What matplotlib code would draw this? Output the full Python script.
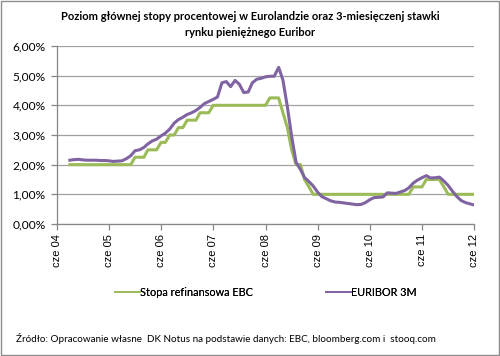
import matplotlib
matplotlib.use("Agg")
import matplotlib.pyplot as plt
from matplotlib.lines import Line2D
from matplotlib.patches import Rectangle
from matplotlib.ticker import FuncFormatter
import pandas as pd

# monthly values, Sep 2004 - Jun 2012 (%)
euribor_3m = [
    2.15, 2.17, 2.18, 2.16,                                                # 2004 (IX-XII)
    2.15, 2.15, 2.15, 2.14, 2.14, 2.13, 2.11, 2.12, 2.13, 2.20, 2.30, 2.47,  # 2005
    2.50, 2.58, 2.70, 2.80, 2.86, 2.97, 3.06, 3.20, 3.40, 3.52, 3.60, 3.69,  # 2006
    3.75, 3.83, 3.93, 4.06, 4.13, 4.20, 4.28, 4.76, 4.80, 4.63, 4.84, 4.71,  # 2007
    4.43, 4.45, 4.76, 4.88, 4.91, 4.96, 4.98, 4.98, 5.28, 4.85, 3.95, 2.95,  # 2008
    2.08, 1.83, 1.57, 1.43, 1.28, 1.07, 0.92, 0.85, 0.78, 0.74, 0.73, 0.71,  # 2009
    0.69, 0.67, 0.65, 0.66, 0.72, 0.82, 0.89, 0.90, 0.91, 1.05, 1.04, 1.03,  # 2010
    1.08, 1.13, 1.22, 1.38, 1.48, 1.56, 1.63, 1.55, 1.56, 1.58, 1.45, 1.30,  # 2011
    1.10, 0.92, 0.79, 0.72, 0.68, 0.64,                                    # 2012 (I-VI)
]
ebc_refi = [
    2.00, 2.00, 2.00, 2.00,
    2.00, 2.00, 2.00, 2.00, 2.00, 2.00, 2.00, 2.00, 2.00, 2.00, 2.00, 2.25,
    2.25, 2.25, 2.50, 2.50, 2.50, 2.75, 2.75, 3.00, 3.00, 3.25, 3.25, 3.50,
    3.50, 3.50, 3.75, 3.75, 3.75, 4.00, 4.00, 4.00, 4.00, 4.00, 4.00, 4.00,
    4.00, 4.00, 4.00, 4.00, 4.00, 4.00, 4.25, 4.25, 4.25, 3.75, 3.25, 2.50,
    2.00, 2.00, 1.50, 1.25, 1.00, 1.00, 1.00, 1.00, 1.00, 1.00, 1.00, 1.00,
    1.00, 1.00, 1.00, 1.00, 1.00, 1.00, 1.00, 1.00, 1.00, 1.00, 1.00, 1.00,
    1.00, 1.00, 1.00, 1.25, 1.25, 1.25, 1.50, 1.50, 1.50, 1.50, 1.25, 1.00,
    1.00, 1.00, 1.00, 1.00, 1.00, 1.00,
]
dates = pd.date_range("2004-09-01", periods=len(euribor_3m), freq="MS")
tick_dates = pd.date_range("2004-06-01", "2012-06-01", freq="12MS")
tick_labels = ["cze " + d.strftime("%y") for d in tick_dates]

title = ("Poziom głównej stopy procentowej w Eurolandzie oraz 3-miesięczenj stawki\n"
         "rynku pieniężnego Euribor")
source = ("Źródło: Opracowanie własne  DK Notus na podstawie danych: EBC, "
          "bloomberg.com i  stooq.com")

GREEN = "#9bbb59"
PURPLE = "#8064a2"
GRID = "#a0a0a0"

fig = plt.figure(figsize=(5, 3.56), dpi=100)
ax = fig.add_axes([0.1134, 0.3708, 0.8352, 0.5])

ax.plot(dates, ebc_refi, color=GREEN, lw=2.2, solid_joinstyle="round")
ax.plot(dates, euribor_3m, color=PURPLE, lw=2.2, solid_joinstyle="round")

ax.set_xlim(tick_dates[0], tick_dates[-1])
ax.set_ylim(0, 6)
ax.set_yticks(range(0, 7))
ax.yaxis.set_major_formatter(FuncFormatter(lambda v, p: f"{v:.2f}%".replace(".", ",")))
ax.set_xticks(tick_dates)
ax.set_xticklabels(tick_labels, rotation=90, family="Liberation Sans", fontsize=8)
for lbl in ax.get_yticklabels():
    lbl.set_family("Lato")
    lbl.set_fontsize(8.6)

ax.grid(axis="y", color=GRID, lw=0.9)
ax.set_axisbelow(True)
for s in ["top", "right"]:
    ax.spines[s].set_visible(False)
for s in ["left", "bottom"]:
    ax.spines[s].set_color("#868686")
    ax.spines[s].set_linewidth(0.9)
ax.tick_params(axis="both", color="#868686", length=4, width=0.9)
ax.tick_params(axis="x", pad=3)
ax.tick_params(axis="y", pad=4)

fig.text(0.5, 1 - 24.5 / 356, title, ha="center", va="center", family="Lato",
         weight="bold", fontsize=8, linespacing=1.45)

# two separate legend entries, placed like in the original (thin key lines)
leg_y = 1 - 292.3 / 356
entries = [(GREEN, "Stopa refinansowa EBC", 115 / 500),
           (PURPLE, "EURIBOR 3M", 326 / 500)]
for color, label, x0 in entries:
    handle = Line2D([], [], color=color, lw=1.3)
    lg = fig.legend([handle], [label], loc="center left",
                    bbox_to_anchor=(x0, leg_y), frameon=False, borderpad=0,
                    borderaxespad=0, handlelength=2.3, handletextpad=0.05,
                    prop={"family": "Lato", "size": 7.8})
    fig.add_artist(lg)

fig.text(0.032, 0.048, source, ha="left", va="center", family="Lato", fontsize=7.1)

fig.patches.append(Rectangle((0.002, 0.003), 0.995, 0.993, transform=fig.transFigure,
                             fill=False, ec="#8c8c8c", lw=1))

fig.savefig("out.png", dpi=100)
